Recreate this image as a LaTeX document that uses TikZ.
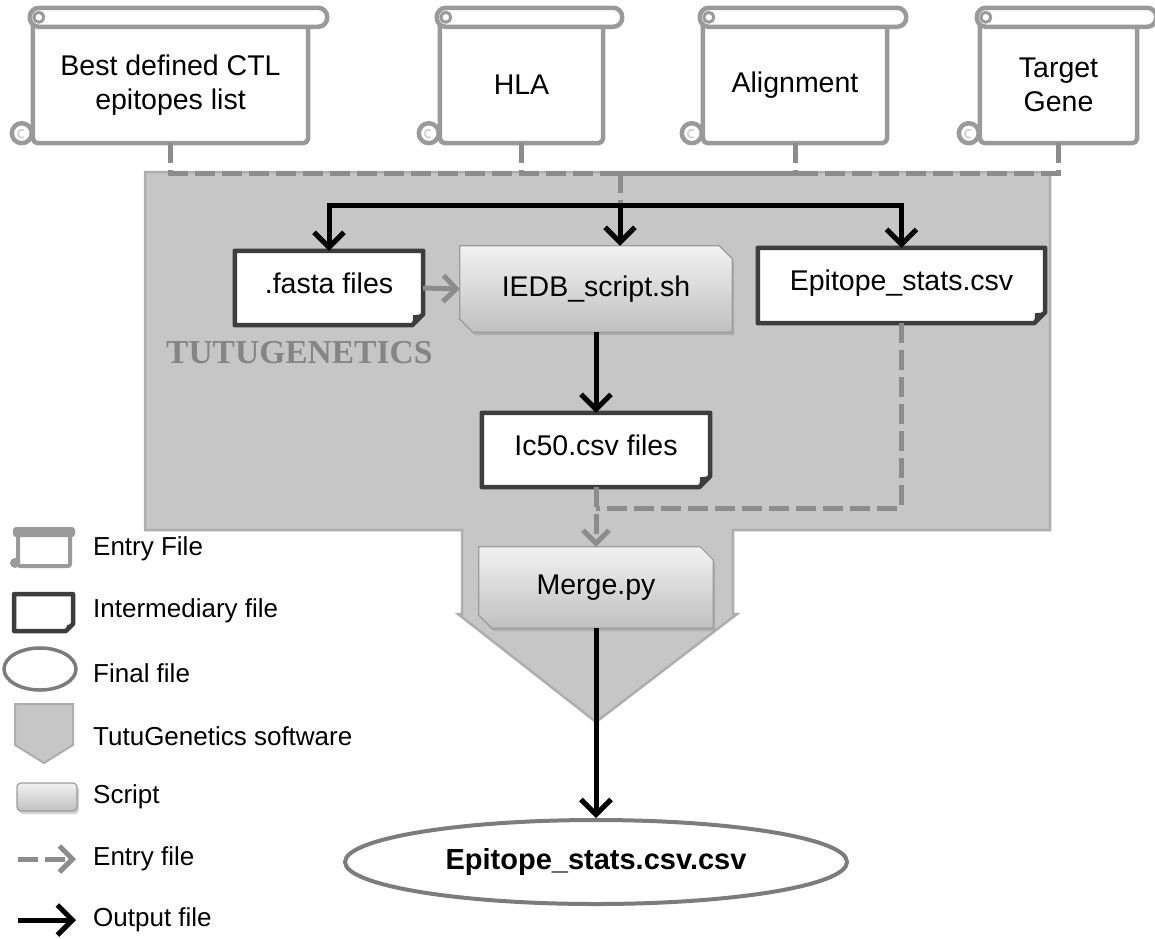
\documentclass[tikz,border=0pt]{standalone}
\usepackage{fontspec}
\setmainfont{Liberation Sans}
\newfontfamily\tutufont{Liberation Serif}
\usetikzlibrary{arrows.meta,shadows,calc,shapes.geometric}
\pgfdeclarelayer{bg}\pgfdeclarelayer{mid}
\pgfsetlayers{bg,mid,main}
\definecolor{regionc}{HTML}{C6C6C6}
\definecolor{regionb}{HTML}{AEAEAE}
\definecolor{scrollc}{HTML}{9A9A9A}
\definecolor{entryc}{HTML}{8C8C8C}
\definecolor{interc}{HTML}{3D3D3D}
\definecolor{ellc}{HTML}{7C7C7C}
\definecolor{tutuc}{HTML}{858585}
\definecolor{scriptb}{HTML}{9C9C9C}
\definecolor{scripttop}{HTML}{F2F2F2}
\definecolor{scriptbot}{HTML}{C0C0C0}
\tikzset{
 every node/.style={font=\fontsize{28.5}{34}\selectfont, inner sep=0pt},
 scrollbody/.style={minimum height=116pt, align=center},
 scrollline/.style={draw=scrollc, line width=4.5pt, line join=round},
 filenode/.style={align=center},
 interline/.style={draw=interc, line width=4.5pt, line join=round, fill=white},
 scriptshape/.style={draw=scriptb, line width=1.2pt, top color=scripttop, bottom color=scriptbot,
   drop shadow={opacity=0.35, shadow xshift=2pt, shadow yshift=-3pt}},
 entryline/.style={draw=entryc, line width=5pt, dash pattern=on 20pt off 7pt},
 entryarrow/.style={entryline, -{Straight Barb[length=13pt,width=26pt]}},
 outarrow/.style={draw=black, line width=5pt, -{Straight Barb[length=15pt,width=30pt]}},
 legtext/.style={anchor=west, font=\fontsize{26}{30}\selectfont},
}
\newcommand\scrolldraw[1]{%
 \filldraw[scrollline, fill=white, rounded corners=5pt] ([yshift=6pt]#1.north west) -- (#1.south west) -- (#1.south east) -- ([yshift=6pt]#1.north east);
 \filldraw[scrollline, fill=white, rounded corners=9pt] ([xshift=-3pt]#1.north west) rectangle ([xshift=19pt,yshift=19pt]#1.north east);
 \filldraw[scrollline, fill=white, line width=3pt] ([xshift=6pt,yshift=9.5pt]#1.north west) circle (5pt);
 \filldraw[scrollline, fill=white] ([xshift=-11pt,yshift=10pt]#1.south west) circle (10pt);
 \draw[scrollc!45, line width=1.8pt] ([xshift=-9pt,yshift=13pt]#1.south west) arc (60:300:4pt);
}
\newcommand\interdraw[1]{%
 \draw[interline] (#1.north west) -- (#1.north east) -- ([yshift=11pt]#1.south east) -- ([xshift=-11pt]#1.south east) -- (#1.south west) -- cycle;
 \fill[interc] ([yshift=11pt]#1.south east) -- ([xshift=-11pt]#1.south east) -- ([xshift=-10pt,yshift=10pt]#1.south east) -- cycle;
}
\newcommand\scriptdraw[1]{%
 \path[scriptshape] (#1.north west) -- ([xshift=-13pt]#1.north east) -- ([yshift=-13pt]#1.north east) -- (#1.south east) -- ([xshift=13pt]#1.south west) -- ([yshift=13pt]#1.south west) -- cycle;
}
\begin{document}
\begin{tikzpicture}[x=1pt,y=-1pt]
\useasboundingbox (0,0) rectangle (1155,938);
% software region
\begin{pgfonlayer}{bg}
\filldraw[fill=regionc, draw=regionb, line width=2.5pt, line join=miter]
 (145,172) -- (1050,172) -- (1050,530) -- (733,530) -- (733,614) -- (737,614) -- (596,722)
 -- (458,614) -- (462,614) -- (462,530) -- (145,530) -- cycle;
\end{pgfonlayer}
% entry scrolls
\node[scrollbody, minimum width=275pt] (s1) at (170.5,85) {Best defined CTL\\epitopes list};
\node[scrollbody, minimum width=163pt] (s2) at (521.5,85) {HLA};
\node[scrollbody, minimum width=184pt] (s3) at (795,85) {Alignment};
\node[scrollbody, minimum width=157pt] (s4) at (1058.5,85) {Target\\Gene};
% files and scripts
\node[filenode, minimum width=188pt, minimum height=74pt, text depth=10pt] (fasta) at (329,288) {.fasta files};
\node[filenode, minimum width=272pt, minimum height=86pt] (iedb) at (596,289) {IEDB\_script.sh};
\node[filenode, minimum width=287pt, minimum height=75pt, text depth=10pt] (epi) at (901.5,285.5) {Epitope\_stats.csv};
\node[filenode, minimum width=228pt, minimum height=74pt, text depth=10pt] (ic50) at (596,450) {Ic50.csv files};
\node[filenode, minimum width=234pt, minimum height=81pt] (merge) at (596,587.5) {Merge.py};
\node[ellipse, draw=ellc, line width=4pt, fill=white, minimum width=502pt, minimum height=84pt,
  font=\bfseries\fontsize{29}{32}\selectfont] (final) at (596,862) {Epitope\_stats.csv.csv};
\node[anchor=west, font=\tutufont\bfseries\fontsize{33.5}{36}\selectfont, text=tutuc] (tutu) at (166,353) {TUTUGENETICS};
% legend texts
\node[legtext] (l1) at (93,549) {Entry File};
\node[legtext] (l2) at (93,611) {Intermediary file};
\node[legtext] (l3) at (93,673) {Final file};
\node[legtext] (l4) at (93,736) {TutuGenetics software};
\node[legtext] (l5) at (93,797) {Script};
\node[legtext] (l6) at (93,859) {Entry file};
\node[legtext] (l7) at (93,920) {Output file};
% shapes
\begin{pgfonlayer}{mid}
\scrolldraw{s1}\scrolldraw{s2}\scrolldraw{s3}\scrolldraw{s4}
\interdraw{fasta}\interdraw{epi}\interdraw{ic50}
\scriptdraw{iedb}\scriptdraw{merge}
% legend icons
\filldraw[scrollline, fill=white, line width=4pt, rounded corners=2pt] (18,533) -- (18,566) -- (70,566) -- (70,533);
\fill[scrollc, rounded corners=3pt] (13,527) rectangle (75,537);
\fill[scrollc] (15,563) circle (5pt);
\draw[interline] (14,594) -- (73,594) -- (73,624) -- (66,631) -- (14,631) -- cycle;
\fill[interc] (73,624) -- (66,631) -- (67,625) -- cycle;
\draw[ellc, line width=3.5pt] (40,669) ellipse (36pt and 21pt);
\filldraw[fill=regionc, draw=regionb, line width=2pt] (15,704) -- (73,704) -- (73,745) -- (44,763) -- (15,745) -- cycle;
\path[scriptshape, rounded corners=4pt] (17,783) rectangle (77,811);
\end{pgfonlayer}
% connectors
\coordinate (junc) at (620,173);
\coordinate (split) at (620,205);
\coordinate (mjoin) at (596,508);
\draw[entryline] (s1.south) |- (junc);
\draw[entryline] (s2.south) |- (junc);
\draw[entryline] (s3.south) |- (junc);
\draw[entryline] (s4.south) |- (junc);
\draw[entryline] (junc) -- (split);
\draw[outarrow] (split) -| (fasta.north);
\draw[outarrow] (split) -- (split |- iedb.north);
\draw[outarrow] (split) -| (epi.north);
\draw[entryarrow, solid] (fasta.east) -- (iedb.west);
\draw[outarrow] (iedb.south) -- (ic50.north);
\draw[entryline] (epi.south) |- (mjoin);
\draw[entryarrow] (ic50.south) -- (merge.north);
\draw[outarrow] (merge.south) -- (final.north);
% legend arrows
\coordinate (la1) at (18,859); \coordinate (la2) at (76,859);
\coordinate (lb1) at (18,920); \coordinate (lb2) at (76,920);
\draw[entryarrow] (la1) -- (la2);
\draw[outarrow] (lb1) -- (lb2);
\end{tikzpicture}
\end{document}
